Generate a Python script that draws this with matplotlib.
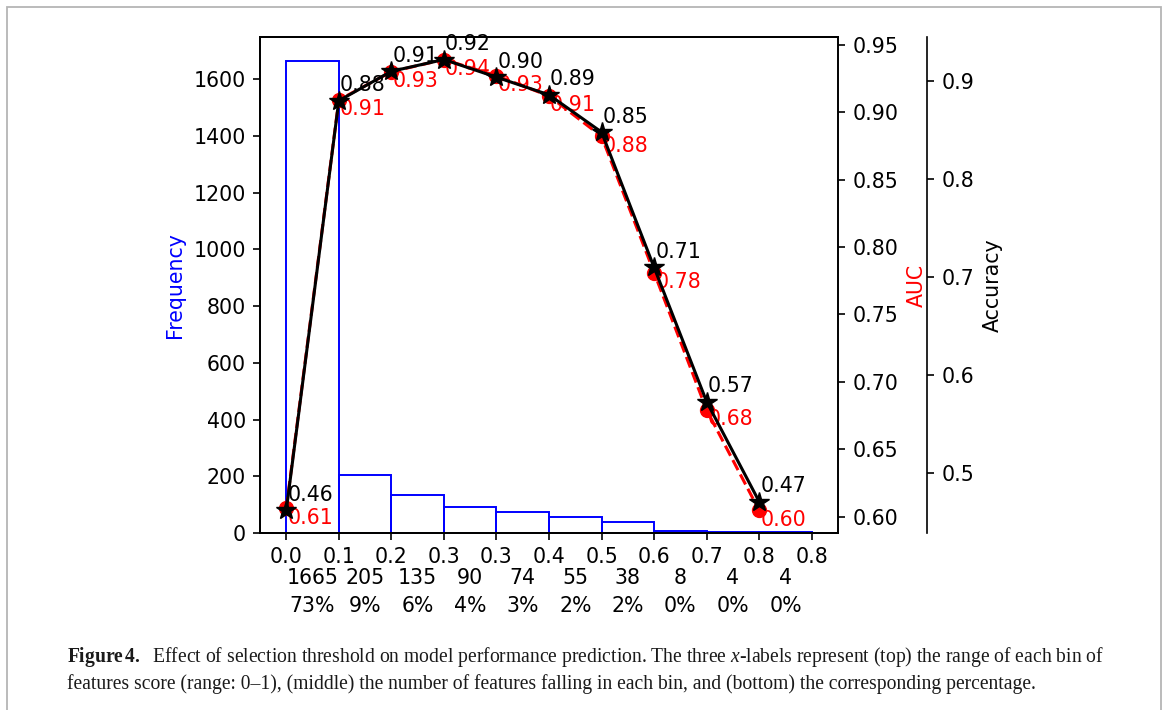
import matplotlib
matplotlib.use("Agg")
import matplotlib.pyplot as plt
from matplotlib.patches import Rectangle

# ---------------- data ----------------
bin_edges = [0.0, 0.084, 0.168, 0.252, 0.336, 0.42, 0.504, 0.588, 0.672, 0.756, 0.84]
edge_labels = ["0.0", "0.1", "0.2", "0.3", "0.3", "0.4", "0.5", "0.6", "0.7", "0.8", "0.8"]
counts = [1665, 205, 135, 90, 74, 55, 38, 8, 4, 4]
percents = ["73%", "9%", "6%", "4%", "3%", "2%", "2%", "0%", "0%", "0%"]
accuracy = [0.462, 0.880, 0.910, 0.922, 0.904, 0.886, 0.848, 0.710, 0.573, 0.471]
auc = [0.606, 0.909, 0.930, 0.939, 0.927, 0.912, 0.882, 0.781, 0.679, 0.6045]

caption_line1 = (r"$\mathbf{Figure\,4.}$  Effect of selection threshold on model performance prediction. "
                 r"The three $\mathit{x}$-labels represent (top) the range of each bin of")
caption_line2 = ("features score (range: 0\u20131), (middle) the number of features falling in each bin, "
                 "and (bottom) the corresponding percentage.")

# ---------------- style ----------------
FS = 14.8
plt.rcParams.update({
    "font.family": "DejaVu Sans",
    "font.size": FS,
    "axes.linewidth": 1.2,
    "xtick.major.size": 5, "ytick.major.size": 5,
    "xtick.major.width": 1.2, "ytick.major.width": 1.2,
    "xtick.major.pad": 5.2, "ytick.major.pad": 5.2,
    "mathtext.fontset": "custom",
    "mathtext.rm": "Liberation Serif",
    "mathtext.it": "Liberation Serif:italic",
    "mathtext.bf": "Liberation Serif:bold",
})

W, H = 1165, 710
fig = plt.figure(figsize=(W / 100, H / 100), dpi=100)

# page frame
fig.patches.append(Rectangle((7 / W, -0.05), (1161 - 7) / W, 1.05 - 7 / H,
                             transform=fig.transFigure, fill=False,
                             edgecolor="#b5b5b5", linewidth=1.3))

L, R, T, B = 260, 838, 37, 533
ax = fig.add_axes([L / W, 1 - B / H, (R - L) / W, (B - T) / H])

# histogram bars
widths = [bin_edges[i + 1] - bin_edges[i] for i in range(len(counts))]
ax.bar(bin_edges[:-1], counts, width=widths, align="edge", fill=False,
       edgecolor="blue", linewidth=1.4)
ax.set_ylabel("Frequency", color="blue", labelpad=6)
ax.set_xticks(bin_edges)
ax.set_xticklabels(edge_labels)

centers = [(bin_edges[i] + bin_edges[i + 1]) / 2 for i in range(len(counts))]
for c, n, p in zip(centers, counts, percents):
    ax.annotate(str(n), xy=(c, 0), xycoords=("data", "axes fraction"),
                xytext=(0, -32.4), textcoords="offset points",
                ha="center", va="center", fontsize=FS)
    ax.annotate(p, xy=(c, 0), xycoords=("data", "axes fraction"),
                xytext=(0, -52.5), textcoords="offset points",
                ha="center", va="center", fontsize=FS)

# AUC axis
ax2 = ax.twinx()
ax2.plot(bin_edges[:-1], auc, color="red", linestyle="--", linewidth=2.2,
         marker="o", markersize=10)
ax2.set_ylabel("AUC", color="red", labelpad=6)
for x, v in zip(bin_edges[:-1], auc):
    ax2.annotate(f"{v:.2f}", xy=(x, v), xytext=(0.8, 0.5), textcoords="offset points",
                 ha="left", va="top", color="red", fontsize=FS)

# Accuracy axis
ax3 = ax.twinx()
ax3.spines["right"].set_position(("axes", 1.154))
ax3.plot(bin_edges[:-1], accuracy, color="black", linestyle="-", linewidth=2.2,
         marker="*", markersize=15)
ax3.set_ylabel("Accuracy", color="black", labelpad=6)
for x, v in zip(bin_edges[:-1], accuracy):
    ax3.annotate(f"{v:.2f}", xy=(x, v), xytext=(0.8, 6.8), textcoords="offset points",
                 ha="left", va="baseline", color="black", fontsize=FS)

# caption
t1 = fig.text(67 / W, 1 - 662 / H, caption_line1, family="Liberation Serif",
              fontsize=13, ha="left", va="baseline", color="#1a1a1a")
t2 = fig.text(67 / W, 1 - 689 / H, caption_line2, family="Liberation Serif",
              fontsize=13, ha="left", va="baseline", color="#1a1a1a")
r = fig.canvas.get_renderer()
w1 = t1.get_window_extent(r).width
scale = (1103 - 67) / w1
t1.set_fontsize(13 * scale)
t2.set_fontsize(13 * scale)

fig.savefig("out.png", dpi=100)
